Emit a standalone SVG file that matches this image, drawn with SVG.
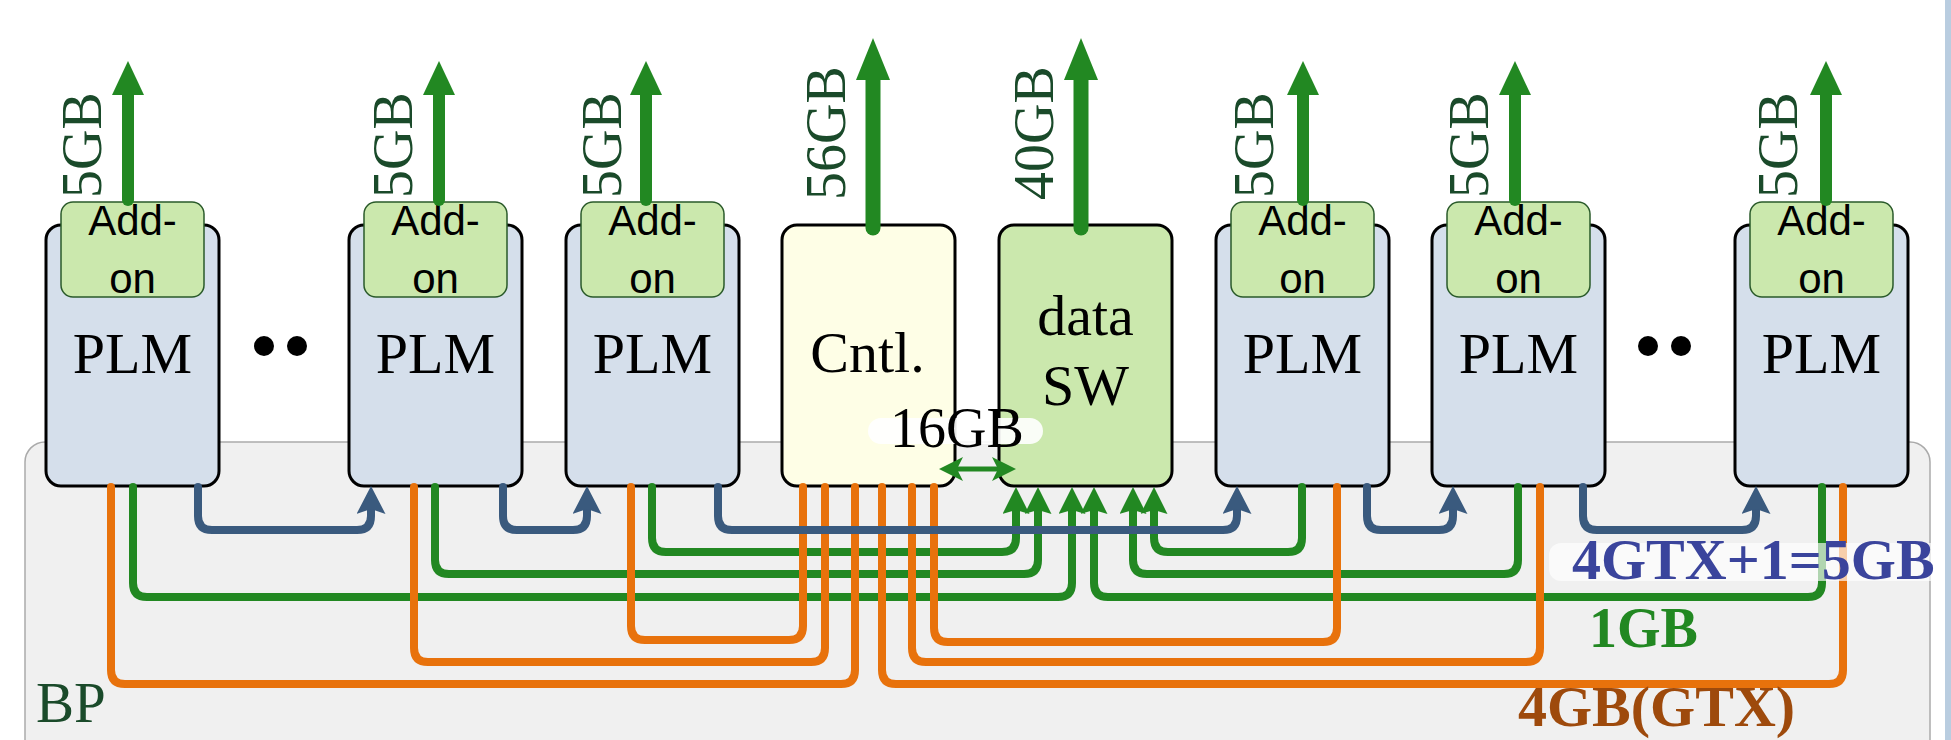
<svg xmlns="http://www.w3.org/2000/svg" width="1951" height="740" viewBox="0 0 1951 740">
<style>
.plm{fill:#d5dfeb;stroke:#000;stroke-width:3}
.addon{fill:#cbe8ad;stroke:#2a5a2a;stroke-width:1.5}
.serif{font-family:"Liberation Serif","Times New Roman",serif}
.sans{font-family:"Liberation Sans",Arial,sans-serif}
.big{font-size:58px;fill:#000}
.addt{font-size:42px;fill:#000;text-anchor:middle}
.vlab{font-size:56px;fill:#1a4a2a}
.up{stroke:#228822;stroke-width:12;fill:none;stroke-linecap:round}
.upb{stroke:#228822;stroke-width:15;fill:none;stroke-linecap:round}
.g{stroke:#228822;stroke-width:8;fill:none;stroke-linecap:round}
.o{stroke:#e8720c;stroke-width:8;fill:none;stroke-linecap:round}
.b{stroke:#3a5a7e;stroke-width:8;fill:none;stroke-linecap:round}
</style>
<defs>
<marker id="upS" markerUnits="userSpaceOnUse" markerWidth="34" markerHeight="32" viewBox="0 0 34 32" refX="2" refY="16" orient="auto"><path d="M0,0 L34,16 L0,32 Z" fill="#228822"/></marker>
<marker id="upL" markerUnits="userSpaceOnUse" markerWidth="42" markerHeight="34" viewBox="0 0 42 34" refX="2" refY="17" orient="auto"><path d="M0,0 L42,17 L0,34 Z" fill="#228822"/></marker>
<marker id="arrB" markerUnits="userSpaceOnUse" markerWidth="28" markerHeight="29" viewBox="0 0 28 29" refX="4" refY="14.5" orient="auto"><path d="M0,0 L28,14.5 L0,29 L5,14.5 Z" fill="#3a5a7e"/></marker>
<marker id="arrG" markerUnits="userSpaceOnUse" markerWidth="27" markerHeight="27" viewBox="0 0 27 27" refX="4" refY="13.5" orient="auto"><path d="M0,0 L27,13.5 L0,27 L4,13.5 Z" fill="#228822"/></marker>
<marker id="arrD" markerUnits="userSpaceOnUse" markerWidth="24" markerHeight="24" viewBox="0 0 24 24" refX="18" refY="12" orient="auto-start-reverse"><path d="M0,0 L24,12 L0,24 L6,12 Z" fill="#228822"/></marker>
</defs>
<rect x="0" y="0" width="1951" height="740" fill="#fff"/>
<rect x="1945" y="0" width="6" height="740" fill="#b9cde0"/>
<g id="bp">
<rect x="25" y="442" width="1905" height="340" rx="20" fill="#f0f0f0" stroke="#aaa" stroke-width="1.5"/>
<text x="36" y="722" class="serif" font-size="57" fill="#1a4a2a">BP</text>
</g>
<g id="plm1">
<rect class="plm" x="46" y="225" width="173" height="261" rx="15"/>
<rect class="addon" x="61" y="202" width="143" height="95" rx="12"/>
<text class="sans addt" x="132.5" y="235">Add-</text>
<text class="sans addt" x="132.5" y="293">on</text>
<text class="serif big" x="132.5" y="373" text-anchor="middle">PLM</text>
</g>
<g id="plm2">
<rect class="plm" x="349" y="225" width="173" height="261" rx="15"/>
<rect class="addon" x="364" y="202" width="143" height="95" rx="12"/>
<text class="sans addt" x="435.5" y="235">Add-</text>
<text class="sans addt" x="435.5" y="293">on</text>
<text class="serif big" x="435.5" y="373" text-anchor="middle">PLM</text>
</g>
<g id="plm3">
<rect class="plm" x="566" y="225" width="173" height="261" rx="15"/>
<rect class="addon" x="581" y="202" width="143" height="95" rx="12"/>
<text class="sans addt" x="652.5" y="235">Add-</text>
<text class="sans addt" x="652.5" y="293">on</text>
<text class="serif big" x="652.5" y="373" text-anchor="middle">PLM</text>
</g>
<g id="cntl">
<rect x="782" y="225" width="173" height="261" rx="15" fill="#fefee6" stroke="#000" stroke-width="3"/>
<text class="serif big" x="867.5" y="372" text-anchor="middle" font-size="57">Cntl.</text>
</g>
<g id="datasw">
<rect x="999" y="225" width="173" height="261" rx="15" fill="#cbe8ad" stroke="#000" stroke-width="3"/>
<text class="serif big" x="1085.5" y="335" text-anchor="middle" font-size="57">data</text>
<text class="serif big" x="1085.5" y="405" text-anchor="middle" font-size="57">SW</text>
</g>
<g id="plm4">
<rect class="plm" x="1216" y="225" width="173" height="261" rx="15"/>
<rect class="addon" x="1231" y="202" width="143" height="95" rx="12"/>
<text class="sans addt" x="1302.5" y="235">Add-</text>
<text class="sans addt" x="1302.5" y="293">on</text>
<text class="serif big" x="1302.5" y="373" text-anchor="middle">PLM</text>
</g>
<g id="plm5">
<rect class="plm" x="1432" y="225" width="173" height="261" rx="15"/>
<rect class="addon" x="1447" y="202" width="143" height="95" rx="12"/>
<text class="sans addt" x="1518.5" y="235">Add-</text>
<text class="sans addt" x="1518.5" y="293">on</text>
<text class="serif big" x="1518.5" y="373" text-anchor="middle">PLM</text>
</g>
<g id="plm6">
<rect class="plm" x="1735" y="225" width="173" height="261" rx="15"/>
<rect class="addon" x="1750" y="202" width="143" height="95" rx="12"/>
<text class="sans addt" x="1821.5" y="235">Add-</text>
<text class="sans addt" x="1821.5" y="293">on</text>
<text class="serif big" x="1821.5" y="373" text-anchor="middle">PLM</text>
</g>
<g id="dots" fill="#000">
<circle cx="264" cy="346" r="10"/><circle cx="297" cy="346" r="10"/>
<circle cx="1648" cy="346" r="10"/><circle cx="1681" cy="346" r="10"/>
</g>
<g id="connectors">
<path class="up" d="M128,200 V93" marker-end="url(#upS)"/>
<path class="up" d="M439,200 V93" marker-end="url(#upS)"/>
<path class="up" d="M646,200 V93" marker-end="url(#upS)"/>
<path class="up" d="M1303,200 V93" marker-end="url(#upS)"/>
<path class="up" d="M1515,200 V93" marker-end="url(#upS)"/>
<path class="up" d="M1826,200 V93" marker-end="url(#upS)"/>
<path class="upb" d="M873,228 V78" marker-end="url(#upL)"/>
<path class="upb" d="M1081,228 V78" marker-end="url(#upL)"/>
<path class="g" d="M133,487 V583 Q133,597 147,597 H1058 Q1072,597 1072,583 V510" marker-end="url(#arrG)"/>
<path class="g" d="M435,487 V560 Q435,574 449,574 H1024 Q1038,574 1038,560 V510" marker-end="url(#arrG)"/>
<path class="g" d="M652,487 V538 Q652,552 666,552 H1002 Q1016,552 1016,538 V510" marker-end="url(#arrG)"/>
<path class="g" d="M1302,487 V538 Q1302,552 1288,552 H1168 Q1154,552 1154,538 V510" marker-end="url(#arrG)"/>
<path class="g" d="M1518,487 V560 Q1518,574 1504,574 H1147 Q1133,574 1133,560 V510" marker-end="url(#arrG)"/>
<path class="g" d="M1822,487 V583 Q1822,597 1808,597 H1108 Q1094,597 1094,583 V510" marker-end="url(#arrG)"/>
<path class="o" d="M803,487 V626 Q803,640 789,640 H645 Q631,640 631,626 V487"/>
<path class="o" d="M825,487 V648 Q825,662 811,662 H428 Q414,662 414,648 V487"/>
<path class="o" d="M855,487 V670 Q855,684 841,684 H125 Q111,684 111,670 V487"/>
<path class="o" d="M882,487 V670 Q882,684 896,684 H1829 Q1843,684 1843,670 V487"/>
<path class="o" d="M912,487 V648 Q912,662 926,662 H1526 Q1540,662 1540,648 V487"/>
<path class="o" d="M934,487 V628 Q934,642 948,642 H1323 Q1337,642 1337,628 V487"/>
<path class="b" d="M198,487 V516 Q198,530 212,530 H357 Q371,530 371,516 V510" marker-end="url(#arrB)"/>
<path class="b" d="M503,487 V516 Q503,530 517,530 H573 Q587,530 587,516 V510" marker-end="url(#arrB)"/>
<path class="b" d="M718,487 V516 Q718,530 732,530 H1223 Q1237,530 1237,516 V510" marker-end="url(#arrB)"/>
<path class="b" d="M1367,487 V516 Q1367,530 1381,530 H1439 Q1453,530 1453,516 V510" marker-end="url(#arrB)"/>
<path class="b" d="M1583,487 V516 Q1583,530 1597,530 H1742 Q1756,530 1756,516 V510" marker-end="url(#arrB)"/>
<path d="M945,469 H1010" stroke="#228822" stroke-width="5" fill="none" marker-start="url(#arrD)" marker-end="url(#arrD)"/>
</g>
<g id="labels">
<text class="serif vlab" transform="translate(101,198) rotate(-90)">5GB</text>
<text class="serif vlab" transform="translate(412,198) rotate(-90)">5GB</text>
<text class="serif vlab" transform="translate(621,198) rotate(-90)">5GB</text>
<text class="serif vlab" transform="translate(845,200) rotate(-90)">56GB</text>
<text class="serif vlab" transform="translate(1053,200) rotate(-90)">40GB</text>
<text class="serif vlab" transform="translate(1273,198) rotate(-90)">5GB</text>
<text class="serif vlab" transform="translate(1488,198) rotate(-90)">5GB</text>
<text class="serif vlab" transform="translate(1797,198) rotate(-90)">5GB</text>
<rect x="868" y="418" width="175" height="26" rx="13" fill="#fff" fill-opacity="0.9"/>
<text class="serif" x="890" y="447" font-size="56" fill="#000">16GB</text>
<rect x="1549" y="543" width="396" height="38" rx="12" fill="#fff" fill-opacity="0.65"/>
<text class="serif" x="1572" y="579" font-size="58" font-weight="bold" fill="#3a449c">4GTX+1=5GB</text>
<text class="serif" x="1589" y="647" font-size="56" font-weight="bold" fill="#228822">1GB</text>
<text class="serif" x="1518" y="726" font-size="58" font-weight="bold" fill="#9e4a0c">4GB(GTX)</text>
</g>
</svg>
